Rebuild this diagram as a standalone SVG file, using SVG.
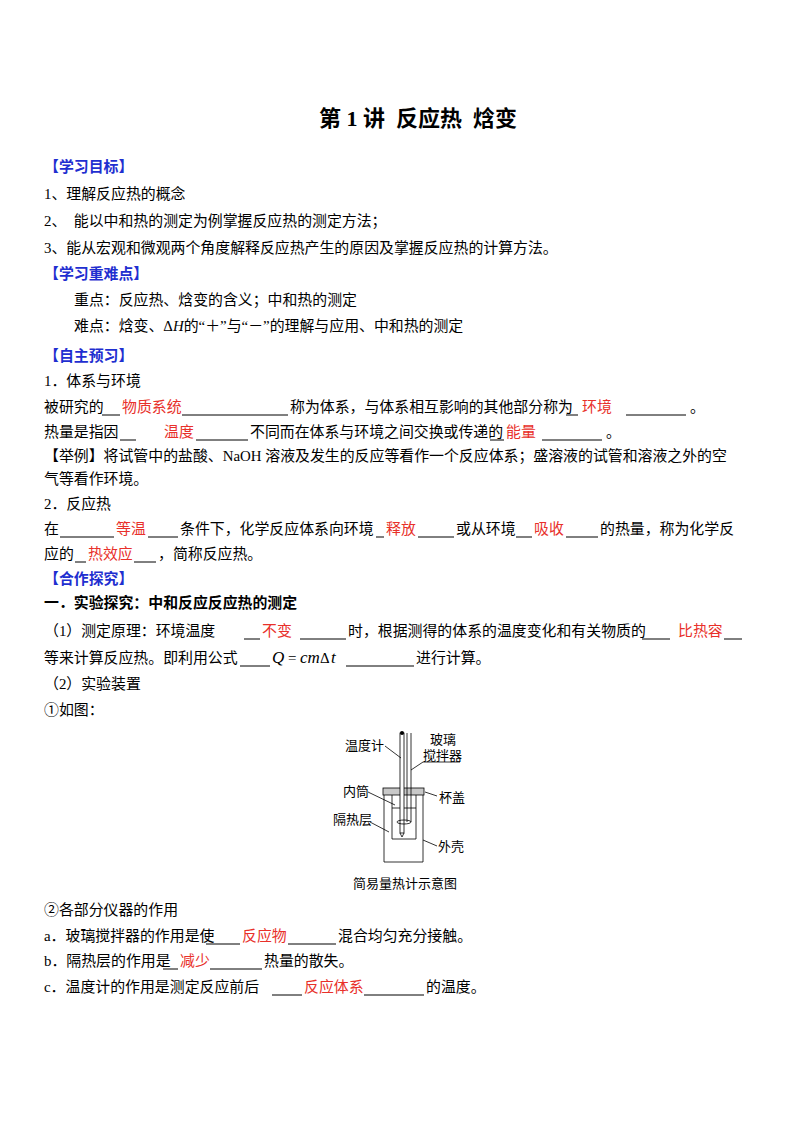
<svg xmlns="http://www.w3.org/2000/svg" width="800" height="1132" viewBox="0 0 800 1132">
<style>
text{font-family:"Liberation Serif","Noto Sans CJK SC",serif;font-size:14.9px;fill:#000}
.r{fill:#e8302a}
.h{fill:#1f2fd0;font-weight:bold}
.b{font-weight:bold}
.u{stroke:#000;stroke-width:1}
.f{font-size:13px}
.ln{stroke:#000;stroke-width:0.8;fill:none}
</style>
<rect width="800" height="1132" fill="#fff"/>
<text x="418" y="126" text-anchor="middle" class="b" style="font-size:22px" xml:space="preserve">第 1 讲  反应热  焓变</text>
<text x="44" y="172" class="h">【学习目标】</text>
<text x="44" y="199">1、理解反应热的概念</text>
<text x="44" y="226" xml:space="preserve">2、  能以中和热的测定为例掌握反应热的测定方法；</text>
<text x="44" y="253">3、能从宏观和微观两个角度解释反应热产生的原因及掌握反应热的计算方法。</text>
<text x="44" y="279" class="h">【学习重难点】</text>
<text x="74" y="305">重点：反应热、焓变的含义；中和热的测定</text>
<text x="74" y="331">难点：焓变、Δ<tspan font-style="italic">H</tspan>的“＋”与“－”的理解与应用、中和热的测定</text>
<text x="44" y="361" class="h">【自主预习】</text>
<text x="44" y="386">1．体系与环境</text>
<g id="para">
<text x="44" y="412">被研究的</text><text x="122" y="412" class="r">物质系统</text><text x="290" y="412">称为体系，与体系相互影响的其他部分称为</text><text x="582" y="412" class="r">环境</text><text x="690" y="412">。</text>
<line class="u" x1="102" y1="415" x2="120" y2="415"/><line class="u" x1="182" y1="415" x2="288" y2="415"/><line class="u" x1="566" y1="415" x2="578" y2="415"/><line class="u" x1="626" y1="415" x2="686" y2="415"/>
<text x="44" y="437">热量是指因</text><text x="164" y="437" class="r">温度</text><text x="250" y="437">不同而在体系与环境之间交换或传递的</text><text x="506" y="437" class="r">能量</text><text x="606" y="437">。</text>
<line class="u" x1="120" y1="440" x2="136" y2="440"/><line class="u" x1="196" y1="440" x2="248" y2="440"/><line class="u" x1="490" y1="440" x2="504" y2="440"/><line class="u" x1="542" y1="440" x2="602" y2="440"/>
<text x="44" y="461">【举例】将试管中的盐酸、NaOH 溶液及发生的反应等看作一个反应体系；盛溶液的试管和溶液之外的空</text>
<text x="44" y="484">气等看作环境。</text>
<text x="44" y="509">2．反应热</text>
<text x="44" y="534">在</text><text x="116" y="534" class="r">等温</text><text x="180" y="534">条件下，化学反应体系向环境</text><text x="386" y="534" class="r">释放</text><text x="456" y="534">或从环境</text><text x="534" y="534" class="r">吸收</text><text x="600" y="534">的热量，称为化学反</text>
<line class="u" x1="60" y1="537" x2="114" y2="537"/><line class="u" x1="148" y1="537" x2="178" y2="537"/><line class="u" x1="376" y1="537" x2="384" y2="537"/><line class="u" x1="418" y1="537" x2="454" y2="537"/><line class="u" x1="516" y1="537" x2="532" y2="537"/><line class="u" x1="566" y1="537" x2="598" y2="537"/>
<text x="44" y="559">应的</text><text x="88" y="559" class="r">热效应</text><text x="158" y="559">，简称反应热。</text>
<line class="u" x1="75" y1="562" x2="86" y2="562"/><line class="u" x1="134" y1="562" x2="156" y2="562"/>
<text x="44" y="584" class="h">【合作探究】</text>
<text x="44" y="608" class="b">一．实验探究：中和反应反应热的测定</text>
<text x="44" y="636">（1）测定原理：环境温度</text><text x="262" y="636" class="r">不变</text><text x="348" y="636">时，根据测得的体系的温度变化和有关物质的</text><text x="678" y="636" class="r">比热容</text>
<line class="u" x1="244" y1="639" x2="260" y2="639"/><line class="u" x1="300" y1="639" x2="346" y2="639"/><line class="u" x1="642" y1="639" x2="670" y2="639"/><line class="u" x1="724" y1="639" x2="742" y2="639"/>
<text x="44" y="663">等来计算反应热。即利用公式</text><text x="272" y="663" style="font-style:italic;font-size:17px">Q</text><text x="288" y="663" style="font-size:15px">=</text><text x="300" y="663" style="font-style:italic;font-size:17px">cm</text><text x="320" y="663" style="font-size:15px">Δ</text><text x="331" y="663" style="font-style:italic;font-size:17px">t</text><text x="416" y="663">进行计算。</text>
<line class="u" x1="240" y1="666" x2="270" y2="666"/><line class="u" x1="346" y1="666" x2="414" y2="666"/>
<text x="44" y="689">（2）实验装置</text>
<text x="44" y="715">①如图：</text>
</g>
<g id="calorimeter">
<rect x="383" y="788" width="41" height="7" fill="#c8c8c8" stroke="#000" stroke-width="0.8"/>
<path class="ln" d="M384 795V862H423V795"/>
<path class="ln" d="M392 795V839H416V795"/>
<line class="ln" x1="392" y1="808" x2="416" y2="808"/>
<rect x="400" y="733" width="4" height="100" fill="#fff" stroke="#000" stroke-width="0.8"/>
<path d="M400 833L402 837L404 833" class="ln"/>
<circle cx="402" cy="733" r="2" fill="#000"/>
<line class="ln" x1="407" y1="733" x2="407" y2="822"/><line class="ln" x1="411" y1="733" x2="411" y2="822"/>
<ellipse cx="404" cy="822" rx="7" ry="2" class="ln"/>
<line class="ln" x1="385" y1="746" x2="401" y2="758"/>
<line class="ln" x1="423" y1="762" x2="411" y2="770"/>
<line class="ln" x1="368" y1="792" x2="395" y2="805"/>
<line class="ln" x1="425" y1="792" x2="437" y2="796"/>
<line class="ln" x1="370" y1="822" x2="389" y2="832"/>
<line class="ln" x1="423" y1="840" x2="437" y2="846"/>
<text x="345" y="750" class="f">温度计</text>
<text x="430" y="744" class="f">玻璃</text>
<text x="423" y="760" class="f">搅拌器</text>
<line class="ln" x1="423" y1="762" x2="460" y2="762"/>
<text x="343" y="796" class="f">内筒</text>
<text x="439" y="802" class="f">杯盖</text>
<text x="333" y="824" class="f">隔热层</text>
<text x="438" y="851" class="f">外壳</text>
<text x="353" y="888" class="f">简易量热计示意图</text>
</g>
<g id="para2">
<text x="44" y="915">②各部分仪器的作用</text>
<text x="44" y="941">a．玻璃搅拌器的作用是使</text><text x="242" y="941" class="r">反应物</text><text x="338" y="941">混合均匀充分接触。</text>
<line class="u" x1="206" y1="944" x2="240" y2="944"/><line class="u" x1="288" y1="944" x2="336" y2="944"/>
<text x="44" y="966">b．隔热层的作用是</text><text x="180" y="966" class="r">减少</text><text x="264" y="966">热量的散失。</text>
<line class="u" x1="163" y1="969" x2="178" y2="969"/><line class="u" x1="210" y1="969" x2="262" y2="969"/>
<text x="44" y="992">c．温度计的作用是测定反应前后</text><text x="304" y="992" class="r">反应体系</text><text x="426" y="992">的温度。</text>
<line class="u" x1="272" y1="995" x2="302" y2="995"/><line class="u" x1="364" y1="995" x2="424" y2="995"/>
</g>
</svg>
